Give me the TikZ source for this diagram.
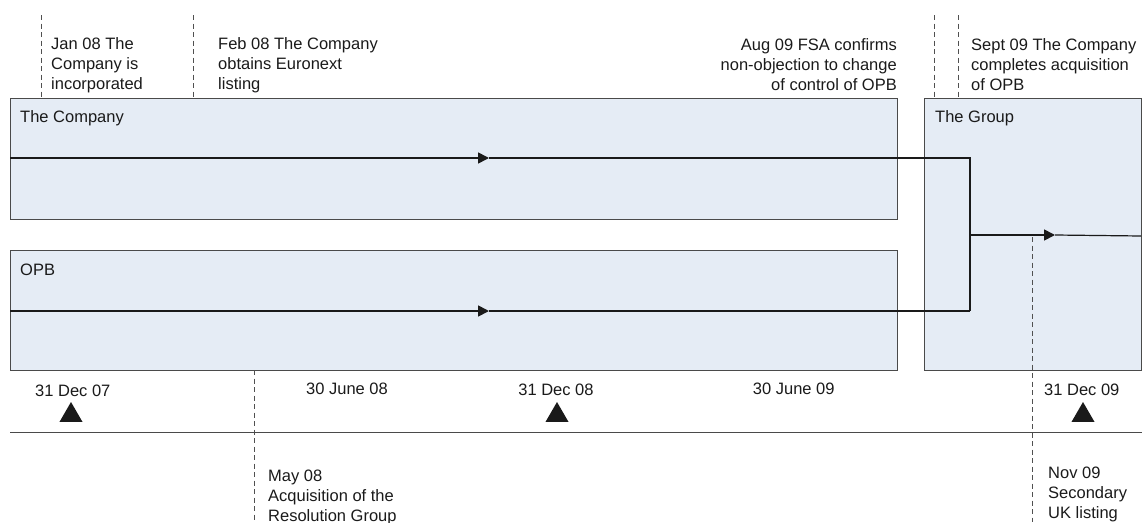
\documentclass[tikz,border=0pt]{standalone}
\usepackage{fontspec}
\setmainfont{Liberation Sans}
\usetikzlibrary{arrows.meta,shapes.geometric}
\definecolor{boxfill}{HTML}{E5ECF5}
\definecolor{boxline}{HTML}{4A4A4A}
\definecolor{ink}{HTML}{1A1A1A}
\definecolor{guidegray}{HTML}{505050}

\begin{document}
\begin{tikzpicture}[x=1pt,y=-1pt,
  panel/.style={draw=boxline, fill=boxfill, line width=1pt, inner sep=0pt, anchor=north west},
  txt/.style={text=ink, inner sep=0pt, font=\fontsize{16.5}{20}\selectfont},
  flow/.style={draw=ink, line width=1.7pt},
  flowtip/.style={flow, -{Triangle[length=11pt,width=11pt]}},
  guide/.style={draw=guidegray, line width=0.8pt, dash pattern=on 5pt off 3.5pt},
  marker/.style={regular polygon, regular polygon sides=3, fill=ink, inner sep=0pt, minimum size=26.6pt},
  axis/.style={draw=boxline, line width=1pt}]

\useasboundingbox (0,0) rectangle (1142,522);
\clip (0,0) rectangle (1142,522);

% entity panels
\node[panel, minimum width=887pt, minimum height=121pt] (company) at (10,98) {};
\node[panel, minimum width=887pt, minimum height=120pt] (opb) at (10,250) {};
\node[panel, minimum width=217pt, minimum height=272pt] (group) at (924,98) {};

\node[txt, anchor=north west] (companylbl) at (20,110) {The Company};
\node[txt, anchor=north west] (opblbl) at (20,263.5) {OPB};
\node[txt, anchor=north west] (grouplbl) at (935,110) {The Group};

% flow lines
\coordinate (c0) at (10,158);
\coordinate (cmid) at (489,158);
\coordinate (cj) at (970,158);
\coordinate (o0) at (10,311);
\coordinate (omid) at (489,311);
\coordinate (oj) at (970,311);
\coordinate (gj) at (970,235);
\coordinate (gmid) at (1055,235);
\coordinate (gend) at (1141,236);

\draw[flowtip] (c0) -- (cmid);
\draw[flow] (cmid) -- (cj) -- (oj);
\draw[flowtip] (o0) -- (omid);
\draw[flow] (omid) -- (oj);
\draw[flowtip] (gj) -- (gmid);
\draw[flow, line width=1.2pt] (gmid) -- (gend);

% event guides
\draw[guide] (41,15) -- (41,98);
\draw[guide] (193,15) -- (193,97);
\draw[guide] (934,15) -- (934,98);
\draw[guide] (958,15) -- (958,98);
\draw[guide] (254,370) -- (254,522);
\draw[guide] (1032,237) -- (1032,522);

% event notes
\node[txt, anchor=north west, align=left] (jan08) at (51,37.5) {Jan 08 The\\Company is\\incorporated};
\node[txt, anchor=north west, align=left] (feb08) at (218,37.5) {Feb 08 The Company\\obtains Euronext\\listing};
\node[txt, anchor=north east, align=right] (aug09) at (897,38.5) {Aug 09 FSA confirms\\non-objection to change\\of control of OPB};
\node[txt, anchor=north west, align=left] (sep09) at (971,38.5) {Sept 09 The Company\\completes acquisition\\of OPB};
\node[txt, anchor=north west, align=left] (may08) at (268,470) {May 08\\Acquisition of the\\Resolution Group};
\node[txt, anchor=north west, align=left] (nov09) at (1048,467) {Nov 09\\Secondary\\UK listing};

% time axis
\coordinate (ax0) at (10,432);
\coordinate (ax1) at (1142,432);
\draw[axis] (ax0) -- (ax1);

\node[txt, anchor=north west] (d07) at (35,385) {31 Dec 07};
\node[txt, anchor=north west] (j08) at (306,383) {30 June 08};
\node[txt, anchor=north] (d08) at (556,384) {31 Dec 08};
\node[txt, anchor=north west] (j09) at (752.7,383) {30 June 09};
\node[txt, anchor=north west] (d09) at (1044,384) {31 Dec 09};

\node[marker] (m07) at (71,415.3) {};
\node[marker] (m08) at (557,415.3) {};
\node[marker] (m09) at (1083,415.3) {};
\end{tikzpicture}
\end{document}
